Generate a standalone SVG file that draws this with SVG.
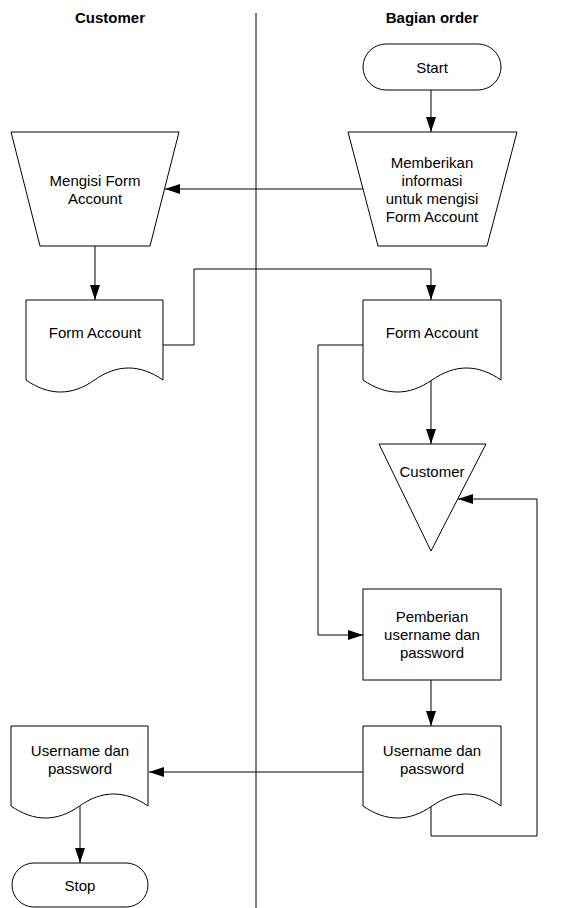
<svg xmlns="http://www.w3.org/2000/svg" width="584" height="908" viewBox="0 0 584 908">
  <style>
    .shape { fill: #ffffff; stroke: #000000; stroke-width: 1; }
    .line { fill: none; stroke: #000000; stroke-width: 1; }
    .label { font-family: "Liberation Sans", Arial, sans-serif; font-size: 15px; fill: #000000; text-anchor: middle; }
    .header { font-family: "Liberation Sans", Arial, sans-serif; font-size: 15px; font-weight: bold; fill: #000000; text-anchor: middle; }
  </style>
  <defs>
    <marker id="arrow" viewBox="0 0 15 10" refX="15" refY="5" markerWidth="15" markerHeight="10" markerUnits="userSpaceOnUse" orient="auto">
      <path d="M0,0 L15,5 L0,10 Z" fill="#000000"/>
    </marker>
  </defs>

  <rect width="584" height="908" fill="#ffffff"/>

  <!-- swimlane headers and divider -->
  <g id="lanes">
    <text class="header" x="110" y="22.5">Customer</text>
    <text class="header" x="432" y="22.5">Bagian order</text>
    <line class="line" x1="256" y1="13" x2="256" y2="908"/>
  </g>

  <!-- connectors -->
  <g id="connectors">
    <line class="line" x1="431" y1="90" x2="431" y2="132" marker-end="url(#arrow)"/>
    <line class="line" x1="363" y1="189" x2="165" y2="189" marker-end="url(#arrow)"/>
    <line class="line" x1="95" y1="246" x2="95" y2="300" marker-end="url(#arrow)"/>
    <polyline class="line" points="163,345 194,345 194,269 431,269 431,300" marker-end="url(#arrow)"/>
    <polyline class="line" points="363,345 318,345 318,635 363,635" marker-end="url(#arrow)"/>
    <line class="line" x1="431" y1="380" x2="431" y2="444" marker-end="url(#arrow)"/>
    <line class="line" x1="431" y1="680" x2="431" y2="726" marker-end="url(#arrow)"/>
    <line class="line" x1="363" y1="772" x2="149" y2="772" marker-end="url(#arrow)"/>
    <polyline class="line" points="431,806 431,836 537,836 537,499 458,499" marker-end="url(#arrow)"/>
    <line class="line" x1="80" y1="806" x2="80" y2="863" marker-end="url(#arrow)"/>
  </g>

  <!-- Bagian order lane -->
  <g id="start">
    <rect class="shape" x="363" y="44" width="138" height="46" rx="23" ry="23"/>
    <text class="label" x="432" y="72.5">Start</text>
  </g>

  <g id="beri-informasi">
    <path class="shape" d="M348,132 H517 L487,246 H378 Z"/>
    <text class="label" x="432" y="167.5">Memberikan</text>
    <text class="label" x="432" y="185.5">informasi</text>
    <text class="label" x="432" y="203.5">untuk mengisi</text>
    <text class="label" x="432" y="221.5">Form Account</text>
  </g>

  <g id="form-account-order">
    <path class="shape" d="M363,300 H501 V380 C478,364 455,364 432,380 C409,396 386,396 363,380 Z"/>
    <text class="label" x="432" y="337.5">Form Account</text>
  </g>

  <g id="arsip-customer">
    <path class="shape" d="M379,444 H486 L431,551 Z"/>
    <text class="label" x="432" y="476.5">Customer</text>
  </g>

  <g id="pemberian-username">
    <rect class="shape" x="363" y="589" width="138" height="91"/>
    <text class="label" x="432" y="621.5">Pemberian</text>
    <text class="label" x="432" y="639.5">username dan</text>
    <text class="label" x="432" y="657.5">password</text>
  </g>

  <g id="username-order">
    <path class="shape" d="M363,726 H501 V806 C478,790 455,790 432,806 C409,822 386,822 363,806 Z"/>
    <text class="label" x="432" y="756">Username dan</text>
    <text class="label" x="432" y="774">password</text>
  </g>

  <!-- Customer lane -->
  <g id="mengisi-form">
    <path class="shape" d="M11,132 H179 L150,246 H40 Z"/>
    <text class="label" x="95" y="185.5">Mengisi Form</text>
    <text class="label" x="95" y="203.5">Account</text>
  </g>

  <g id="form-account-customer">
    <path class="shape" d="M26,300 H163 V380 C140,364 117,364 94.5,380 C72,396 49,396 26,380 Z"/>
    <text class="label" x="95" y="337.5">Form Account</text>
  </g>

  <g id="username-customer">
    <path class="shape" d="M11,726 H148 V806 C125,790 102,790 79.5,806 C57,822 34,822 11,806 Z"/>
    <text class="label" x="80" y="756">Username dan</text>
    <text class="label" x="80" y="774">password</text>
  </g>

  <g id="stop">
    <rect class="shape" x="12" y="863" width="136" height="44" rx="22" ry="22"/>
    <text class="label" x="80" y="890.5">Stop</text>
  </g>
</svg>
